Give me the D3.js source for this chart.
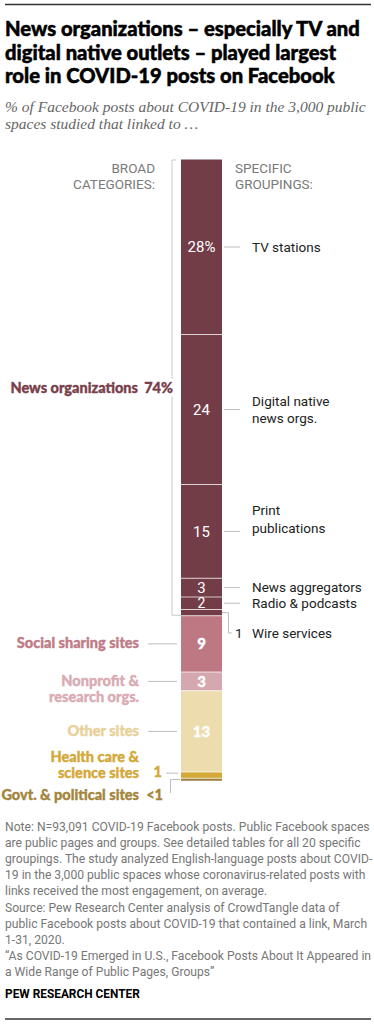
<!DOCTYPE html>
<html>
<head>
<meta charset="utf-8">
<script src="https://cdn.jsdelivr.net/npm/d3@7"></script>
<style>
	body { margin: 0; background: #fff; }
	svg { display: block; }
</style>
</head>
<body>
<div id="chart"></div>
<script>
// DATA
const titleLines = [
	"News organizations – especially TV and",
	"digital native outlets – played largest",
	"role in COVID-19 posts on Facebook"
];
const subtitleLines = [
	"% of Facebook posts about COVID-19 in the 3,000 public",
	"spaces studied that linked to …"
];
const groupings = [
	["TV stations"],
	["Digital native", "news orgs."],
	["Print", "publications"],
	["News aggregators"],
	["Radio & podcasts"],
	["Wire services"],
	["Social sharing sites"],
	["Nonprofit &", "research orgs."],
	["Other sites"],
	["Health care &", "science sites"],
	["Govt. & political sites"]
];
const groupValues = [28, 24, 15, 3, 2, 1, 9, 3, 13, 1, 0.4];
const groupLabels = ["28%", "24", "15", "3", "2", "1", "9", "3", "13", "1", "<1"];
const groupCategory = [0, 0, 0, 0, 0, 0, 1, 2, 3, 4, 5];
const categories = [
	["News organizations"],
	["Social sharing sites"],
	["Nonprofit &", "research orgs."],
	["Other sites"],
	["Health care &", "science sites"],
	["Govt. & political sites"]
];
const categoryTotals = ["74%", "9", "3", "13", "1", "<1"];
const categoryColors = ["#733d48", "#bd7883", "#d5a7af", "#ecdcae", "#d4a936", "#9e7e3c"];
const categoryTextColors = ["#7a3f4b", "#c07b86", "#d9abb3", "#e8d199", "#d4a838", "#a5853d"];
const noteLines = [
	"Note: N=93,091 COVID-19 Facebook posts. Public Facebook spaces",
	"are public pages and groups. See detailed tables for all 20 specific",
	"groupings. The study analyzed English-language posts about COVID-",
	"19 in the 3,000 public spaces whose coronavirus-related posts with",
	"links received the most engagement, on average.",
	"Source: Pew Research Center analysis of CrowdTangle data of",
	"public Facebook posts about COVID-19 that contained a link, March",
	"1-31, 2020.",
	"“As COVID-19 Emerged in U.S., Facebook Posts About It Appeared in",
	"a Wide Range of Public Pages, Groups”"
];

const W = 374, H = 1024;
const SANS = "Roboto, 'Liberation Sans', sans-serif";
const BOLD = "Lato, Roboto, sans-serif";
const LBL = 14.5;

const svg = d3.select("#chart").append("svg").attr("width", W).attr("height", H);

// scale a group's font so that its first line has the given width
function fitGroup(g, size, target) {
	const w = g.select("text").node().getComputedTextLength();
	g.attr("font-size", size * target / w);
}

// heavy label: bold text with a thin outline of the same colour
function heavy(sel, color, sw) {
	return sel.attr("font-family", BOLD).attr("font-weight", 900)
		.attr("fill", color).attr("stroke", color).attr("stroke-width", sw || 0.35)
		.attr("stroke-linejoin", "round");
}

// RULES
svg.append("line").attr("x1", 5).attr("x2", 371).attr("y1", 4.5).attr("y2", 4.5)
	.attr("stroke", "#333").attr("stroke-width", 1.5);
svg.append("line").attr("x1", 5).attr("x2", 371).attr("y1", 1019).attr("y2", 1019)
	.attr("stroke", "#333").attr("stroke-width", 1.5);

// TITLE
const title = heavy(svg.append("g"), "#000", 0.5).attr("font-size", 20);
title.selectAll("text").data(titleLines).join("text")
	.attr("x", 5).attr("y", (d, i) => 36 + i * 23.5).text(d => d);
fitGroup(title, 20, 355);

// SUBTITLE
const sub = svg.append("g").attr("font-family", "'Liberation Serif', serif").attr("font-style", "italic")
	.attr("font-size", 15).attr("fill", "#666");
sub.selectAll("text").data(subtitleLines).join("text")
	.attr("x", 5).attr("y", (d, i) => 112 + i * 17).text(d => d);
fitGroup(sub, 15, 361);

// COLUMN HEADERS
const hdr = svg.append("g").attr("font-family", SANS).attr("font-size", 13).attr("fill", "#7a7a7a");
hdr.append("text").attr("x", 155).attr("y", 189).attr("text-anchor", "end").text("CATEGORIES:");
hdr.append("text").attr("x", 155).attr("y", 173).attr("text-anchor", "end").text("BROAD");
hdr.append("text").attr("x", 235).attr("y", 173).text("SPECIFIC");
hdr.append("text").attr("x", 235).attr("y", 189).text("GROUPINGS:");
fitGroup(hdr, 13, 82);

// SCALE
const y = d3.scaleLinear().domain([0, 100]).range([159.5, 784.5]);
const ends = Array.from(d3.cumsum(groupValues));
const segs = groupValues.map((v, i) => ({
	i: i, v: v, start: ends[i] - v, end: ends[i], cat: groupCategory[i]
}));
const mid = d => y((d.start + d.end) / 2);
const barX = 181, barW = 41, barCx = barX + barW / 2;

// BAR SEGMENTS
svg.append("g").selectAll("rect").data(segs).join("rect")
	.attr("x", barX).attr("width", barW)
	.attr("y", d => y(d.start)).attr("height", d => y(d.end) - y(d.start))
	.attr("fill", d => categoryColors[d.cat]);
svg.append("g").selectAll("line").data(segs.slice(1)).join("line")
	.attr("x1", barX).attr("x2", barX + barW)
	.attr("y1", d => y(d.start)).attr("y2", d => y(d.start))
	.attr("stroke", "#fff").attr("stroke-opacity", 0.7).attr("stroke-width", 1);

// VALUES INSIDE BAR
const vals = svg.append("g").selectAll("text").data(segs.filter(d => d.v >= 2)).join("text")
	.attr("x", barCx).attr("y", d => mid(d)).attr("dy", "0.36em")
	.attr("text-anchor", "middle").attr("font-family", SANS)
	.attr("font-size", d => d.v < 3 ? 14 : 15)
	.attr("fill", "#fff").text(d => groupLabels[d.i]);
heavy(vals.filter(d => d.cat > 0), "#fff", 0.35);

const leader = "#bdbdbd";

// RIGHT SIDE: SPECIFIC GROUPINGS (news only)
const rightLineOffset = { 2: -21 };
const news = segs.filter(d => d.cat === 0 && d.v >= 2);
news.forEach(function (d) {
	const ym = mid(d);
	svg.append("line").attr("x1", 224).attr("x2", 240).attr("y1", ym).attr("y2", ym)
		.attr("stroke", leader);
	const lines = groupings[d.i];
	const top = rightLineOffset[d.i] !== undefined ? ym + rightLineOffset[d.i] : ym - (lines.length - 1) * 8.5;
	svg.append("g").selectAll("text").data(lines).join("text")
		.attr("x", 252).attr("y", (t, k) => top + k * 17.5).attr("dy", "0.36em")
		.attr("font-family", SANS).attr("font-size", 13.5).attr("fill", "#222").text(t => t);
});

// WIRE SERVICES (elbow)
const wire = segs[5];
svg.append("path")
	.attr("d", d3.line()([[barX + barW, mid(wire)], [228.5, mid(wire)], [228.5, 633], [232, 633]]))
	.attr("fill", "none").attr("stroke", leader);
svg.append("text").attr("x", 235).attr("y", 633).attr("dy", "0.36em")
	.attr("font-family", SANS).attr("font-size", 13.5).attr("fill", "#222").text(groupLabels[5]);
svg.append("text").attr("x", 252).attr("y", 633).attr("dy", "0.36em")
	.attr("font-family", SANS).attr("font-size", 13.5).attr("fill", "#222").text(groupings[5][0]);

// LEFT SIDE: NEWS BRACKET
const newsEnd = y(d3.sum(groupValues.slice(0, 6)));
svg.append("path")
	.attr("d", d3.line()([[176, y(0) + 0.5], [172, y(0) + 0.5], [172, newsEnd - 0.5], [barX, newsEnd - 0.5]]))
	.attr("fill", "none").attr("stroke", "#c8c8c8");
const newsMid = (y(0) + newsEnd) / 2;
svg.append("rect").attr("x", 142).attr("y", newsMid - 9).attr("width", 34).attr("height", 18).attr("fill", "#fff");
heavy(svg.append("text"), categoryTextColors[0]).attr("font-size", LBL)
	.attr("x", 138).attr("y", newsMid).attr("dy", "0.36em").attr("text-anchor", "end")
	.text(categories[0][0]);
heavy(svg.append("text"), categoryTextColors[0]).attr("font-size", LBL)
	.attr("x", 173).attr("y", newsMid).attr("dy", "0.36em").attr("text-anchor", "end")
	.text(categoryTotals[0]);

// LEFT SIDE: OTHER CATEGORIES
[6, 7, 8].forEach(function (i) {
	const d = segs[i], ym = mid(d), c = d.cat;
	svg.append("line").attr("x1", 148).attr("x2", 177).attr("y1", ym).attr("y2", ym).attr("stroke", leader);
	heavy(svg.append("g"), categoryTextColors[c]).attr("font-size", LBL)
		.selectAll("text").data(categories[c]).join("text")
		.attr("x", 139).attr("y", (t, k) => ym - 1 + k * 16.5).attr("dy", "0.36em")
		.attr("text-anchor", "end").text(t => t);
});

// HEALTH CARE
const health = segs[9], hm = mid(health) - 2;
svg.append("line").attr("x1", 166).attr("x2", 178).attr("y1", hm).attr("y2", hm).attr("stroke", leader);
heavy(svg.append("g"), categoryTextColors[4]).attr("font-size", LBL)
	.selectAll("text").data(categories[4]).join("text")
	.attr("x", 139).attr("y", (t, k) => hm - 16.5 + k * 16.5).attr("dy", "0.36em")
	.attr("text-anchor", "end").text(t => t);
heavy(svg.append("text"), categoryTextColors[4]).attr("font-size", LBL)
	.attr("x", 162).attr("y", hm - 1).attr("dy", "0.36em").attr("text-anchor", "end")
	.text(categoryTotals[4]);

// GOVT
const govt = segs[10], gm = mid(govt);
svg.append("path")
	.attr("d", d3.line()([[barX - 1, gm], [170.5, gm], [170.5, 793]]))
	.attr("fill", "none").attr("stroke", leader);
heavy(svg.append("text"), categoryTextColors[5]).attr("font-size", LBL)
	.attr("x", 139).attr("y", 795).attr("dy", "0.36em").attr("text-anchor", "end")
	.text(categories[5][0]);
heavy(svg.append("text"), categoryTextColors[5]).attr("font-size", LBL)
	.attr("x", 163).attr("y", 795).attr("dy", "0.36em").attr("text-anchor", "end")
	.text(categoryTotals[5]);

// NOTE & SOURCE
const note = svg.append("g").attr("font-family", SANS).attr("font-size", 12.5).attr("fill", "#777");
note.selectAll("text").data(noteLines).join("text")
	.attr("x", 5).attr("y", (d, i) => 831 + i * 16.1).text(d => d);
fitGroup(note, 12.5, 365);

const pew = svg.append("g").attr("font-family", SANS).attr("font-weight", 700).attr("font-size", 12.5).attr("fill", "#000");
pew.append("text").attr("x", 5).attr("y", 997.5).text("PEW RESEARCH CENTER");
fitGroup(pew, 12.5, 135);
</script>
</body>
</html>
